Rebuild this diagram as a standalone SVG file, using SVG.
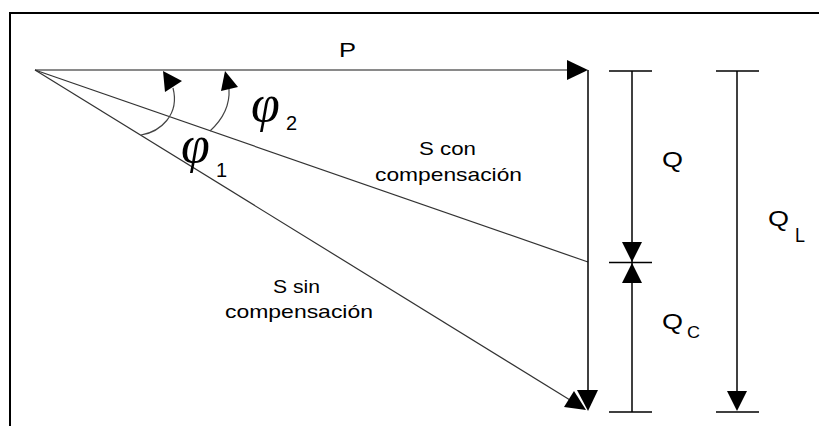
<svg xmlns="http://www.w3.org/2000/svg" width="819" height="426" viewBox="0 0 819 426">
<style>
.frame{fill:none;stroke:#000;stroke-width:2}
.gray{stroke:#8a8a8a;stroke-width:2;fill:none}
.thin{stroke:#333;stroke-width:1.2;fill:none}
.arc{stroke:#444;stroke-width:1.2;fill:none}
.blk{stroke:#000;stroke-width:1.5;fill:none}
.head{fill:#000;stroke:none}
.t{font-family:"Liberation Sans",Arial,sans-serif;fill:#000}
.phi{font-family:"Liberation Serif","Times New Roman",serif;font-style:italic;fill:#000}
</style>
<rect width="819" height="426" fill="#fff"/>
<path class="frame" d="M10,426 V13 H819"/>
<g id="connectors">
  <line class="gray" x1="35" y1="70" x2="570" y2="70"/>
  <polygon class="head" points="588,70 567,60 567,80"/>
  <line class="thin" x1="35" y1="70" x2="588" y2="262"/>
  <line class="thin" x1="35" y1="70" x2="570" y2="400"/>
  <polygon class="head" points="586,410 564,407 574,391"/>
  <line class="blk" x1="588" y1="70" x2="588" y2="392"/>
  <polygon class="head" points="588,411 577,390 598,390"/>
  <path class="arc" d="M141,135 C160,132 180,115 173,88"/>
  <polygon class="head" points="163,71 165,92 182,81"/>
  <path class="arc" d="M210,131 C222,120 230,105 229,89"/>
  <polygon class="head" points="225,71 221,91 238,87"/>
</g>
<g id="dim-Q">
  <line class="blk" x1="609" y1="71" x2="652" y2="71"/>
  <line class="blk" x1="609" y1="262.5" x2="652" y2="262.5"/>
  <line class="blk" x1="609" y1="412" x2="652" y2="412"/>
  <line class="blk" x1="632" y1="71" x2="632" y2="412"/>
  <polygon class="head" points="632,262 622,242 642,242"/>
  <polygon class="head" points="632,263 622,283 642,283"/>
</g>
<g id="dim-QL">
  <line class="blk" x1="716" y1="71" x2="759" y2="71"/>
  <line class="blk" x1="716" y1="412" x2="759" y2="412"/>
  <line class="blk" x1="737" y1="71" x2="737" y2="395"/>
  <polygon class="head" points="737,411 727,391 747,391"/>
</g>
<g id="labels">
  <text class="t" x="339" y="57" font-size="21" textLength="17" lengthAdjust="spacingAndGlyphs">P</text>
  <text class="t" x="662" y="167" font-size="22" textLength="21" lengthAdjust="spacingAndGlyphs">Q</text>
  <text class="t" x="768" y="226" font-size="22" textLength="21" lengthAdjust="spacingAndGlyphs">Q</text>
  <text class="t" x="795" y="242" font-size="20" textLength="10" lengthAdjust="spacingAndGlyphs">L</text>
  <text class="t" x="662" y="329" font-size="22" textLength="21" lengthAdjust="spacingAndGlyphs">Q</text>
  <text class="t" x="687" y="338" font-size="16" textLength="13" lengthAdjust="spacingAndGlyphs">C</text>
  <text class="t" x="419" y="155" font-size="19" textLength="57" lengthAdjust="spacingAndGlyphs">S con</text>
  <text class="t" x="375" y="181" font-size="19" textLength="147" lengthAdjust="spacingAndGlyphs">compensación</text>
  <text class="t" x="273" y="293" font-size="19" textLength="47" lengthAdjust="spacingAndGlyphs">S sin</text>
  <text class="t" x="225" y="318" font-size="19" textLength="148" lengthAdjust="spacingAndGlyphs">compensación</text>
  <text class="phi" x="251" y="121" font-size="52">φ</text>
  <text class="t" x="286" y="130" font-size="20">2</text>
  <text class="phi" x="181" y="162" font-size="52">φ</text>
  <text class="t" x="216" y="177" font-size="20">1</text>
</g>
</svg>
